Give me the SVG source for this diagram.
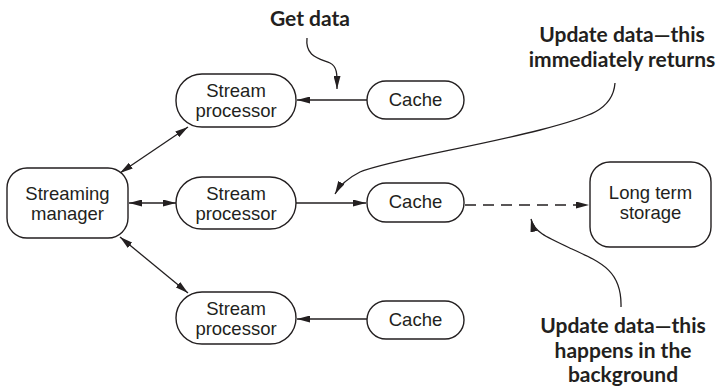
<svg xmlns="http://www.w3.org/2000/svg" width="718" height="390" viewBox="0 0 718 390">
<style>
.n{fill:#fff;stroke:#231f20;stroke-width:1.4}
.t{font-family:"Liberation Sans",Arial,sans-serif;font-size:18.5px;fill:#231f20;text-anchor:middle}
.b{font-family:Lato,"Open Sans",sans-serif;font-weight:bold;font-size:21px;fill:#231f20;text-anchor:middle}
.c{fill:none;stroke:#231f20;stroke-width:1.3}
</style>
<defs>
<marker id="ah" viewBox="0 0 13 7" refX="13" refY="3.5" markerWidth="13" markerHeight="7" markerUnits="userSpaceOnUse" orient="auto-start-reverse">
<path d="M0,0 L13,3.5 L0,7 z" fill="#231f20"/>
</marker>
</defs>
<g id="connectors">
<line class="c" x1="367" y1="100" x2="297" y2="100" marker-end="url(#ah)"/>
<line class="c" x1="120" y1="173" x2="188" y2="127" marker-start="url(#ah)" marker-end="url(#ah)"/>
<line class="c" x1="129" y1="203" x2="176" y2="203" marker-start="url(#ah)" marker-end="url(#ah)"/>
<line class="c" x1="120" y1="237" x2="188" y2="293" marker-start="url(#ah)" marker-end="url(#ah)"/>
<line class="c" x1="296" y1="203" x2="366" y2="203" marker-end="url(#ah)"/>
<line class="c" x1="367" y1="319" x2="297" y2="319" marker-end="url(#ah)"/>
<line class="c" x1="465" y1="205" x2="589" y2="205" stroke-dasharray="11,7" marker-end="url(#ah)"/>
<path class="c" d="M307,38 C305,56 318,58 330,63 C338,67 337,76 337,89" marker-end="url(#ah)"/>
<path class="c" d="M615,83 C613,110 590,117 540,130 C470,148 390,160 360,172 C348,178 340,185 335,194" marker-end="url(#ah)"/>
<path class="c" d="M621,307 C622,272 603,263 572,249 C546,237 534,232 531,219" marker-end="url(#ah)"/>
</g>
<g id="manager">
<rect class="n" x="7" y="168" width="121" height="70" rx="20"/>
<text class="t" x="67.5" y="200">Streaming</text>
<text class="t" x="67.5" y="220">manager</text>
</g>
<g id="processor1">
<rect class="n" x="176" y="74" width="120" height="53" rx="26"/>
<text class="t" x="236" y="97">Stream</text>
<text class="t" x="236" y="117">processor</text>
</g>
<g id="processor2">
<rect class="n" x="176" y="177" width="120" height="52" rx="26"/>
<text class="t" x="236" y="200">Stream</text>
<text class="t" x="236" y="220">processor</text>
</g>
<g id="processor3">
<rect class="n" x="176" y="292" width="120" height="52" rx="26"/>
<text class="t" x="236" y="315">Stream</text>
<text class="t" x="236" y="335">processor</text>
</g>
<g id="cache1">
<rect class="n" x="367" y="81" width="97" height="38" rx="19"/>
<text class="t" x="415.5" y="106">Cache</text>
</g>
<g id="cache2">
<rect class="n" x="367" y="183" width="97" height="39" rx="19"/>
<text class="t" x="415.5" y="208">Cache</text>
</g>
<g id="cache3">
<rect class="n" x="367" y="301" width="97" height="38" rx="19"/>
<text class="t" x="415.5" y="326">Cache</text>
</g>
<g id="storage">
<rect class="n" x="590" y="162" width="121" height="85" rx="20"/>
<text class="t" x="650.5" y="199">Long term</text>
<text class="t" x="650.5" y="219">storage</text>
</g>
<g id="labels">
<text class="b" x="310" y="26">Get data</text>
<text class="b" x="622" y="42">Update data—this</text>
<text class="b" x="622" y="67">immediately returns</text>
<text class="b" x="623" y="333">Update data—this</text>
<text class="b" x="623" y="358">happens in the</text>
<text class="b" x="623" y="382">background</text>
</g>
</svg>
